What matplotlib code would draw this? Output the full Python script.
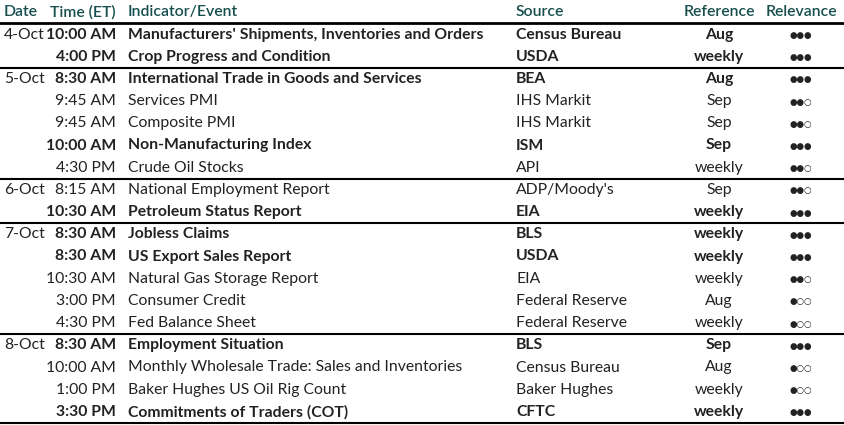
import matplotlib.pyplot as plt

dates = ["4-Oct", "", "5-Oct", "", "", "", "", "6-Oct", "", "7-Oct", "", "", "", "", "8-Oct", "", "", ""]
times = ["10:00 AM", "4:00 PM", "8:30 AM", "9:45 AM", "9:45 AM", "10:00 AM", "4:30 PM", "8:15 AM",
         "10:30 AM", "8:30 AM", "8:30 AM", "10:30 AM", "3:00 PM", "4:30 PM", "8:30 AM", "10:00 AM",
         "1:00 PM", "3:30 PM"]
events = ["Manufacturers' Shipments, Inventories and Orders", "Crop Progress and Condition",
          "International Trade in Goods and Services", "Services PMI", "Composite PMI",
          "Non-Manufacturing Index", "Crude Oil Stocks", "National Employment Report",
          "Petroleum Status Report", "Jobless Claims", "US Export Sales Report",
          "Natural Gas Storage Report", "Consumer Credit", "Fed Balance Sheet",
          "Employment Situation", "Monthly Wholesale Trade: Sales and Inventories",
          "Baker Hughes US Oil Rig Count", "Commitments of Traders (COT)"]
sources = ["Census Bureau", "USDA", "BEA", "IHS Markit", "IHS Markit", "ISM", "API", "ADP/Moody's",
           "EIA", "BLS", "USDA", "EIA", "Federal Reserve", "Federal Reserve", "BLS", "Census Bureau",
           "Baker Hughes", "CFTC"]
refs = ["Aug", "weekly", "Aug", "Sep", "Sep", "Sep", "weekly", "Sep", "weekly", "weekly", "weekly",
        "weekly", "Aug", "weekly", "Sep", "Aug", "weekly", "weekly"]
relevance = [3, 3, 3, 2, 2, 3, 2, 2, 3, 3, 3, 2, 1, 1, 3, 1, 1, 3]
bold = [True, True, True, False, False, True, False, False, True, True, True, False, False, False,
        True, False, False, True]
group_breaks = [2, 7, 9, 14]

W, H = 844, 425
fig = plt.figure(figsize=(W / 100, H / 100), dpi=100)
ax = fig.add_axes([0, 0, 1, 1])
ax.set_xlim(0, W)
ax.set_ylim(H, 0)
ax.axis("off")

plt.rcParams['font.family'] = ['Lato', 'DejaVu Sans']
txt = "#222222"
hdr = "#174f4f"
fs = 11.3

hy = 12
ax.text(4, hy, "Date", color=hdr, fontsize=fs, va="center", ha="left", weight="semibold")
ax.text(116, hy, "Time (ET)", color=hdr, fontsize=fs, va="center", ha="right", weight="semibold")
ax.text(128, hy, "Indicator/Event", color=hdr, fontsize=fs, va="center", ha="left", weight="semibold")
ax.text(516, hy, "Source", color=hdr, fontsize=fs, va="center", ha="left", weight="semibold")
ax.text(719, hy, "Reference", color=hdr, fontsize=fs, va="center", ha="center", weight="semibold")
ax.text(801, hy, "Relevance", color=hdr, fontsize=fs, va="center", ha="center", weight="semibold")
ax.plot([0, W], [23, 23], color="black", lw=2)

y0, dy = 34.5, 22.2
for i in range(len(events)):
    y = y0 + i * dy
    w = "bold" if bold[i] else "normal"
    ax.text(4, y, dates[i], color=txt, fontsize=fs, va="center", ha="left")
    ax.text(116, y, times[i], color=txt, fontsize=fs, va="center", ha="right", weight=w)
    ax.text(128, y, events[i], color=txt, fontsize=fs, va="center", ha="left", weight=w)
    ax.text(516, y, sources[i], color=txt, fontsize=fs, va="center", ha="left", weight=w)
    ax.text(719, y, refs[i], color=txt, fontsize=fs, va="center", ha="center", weight=w)
    dots = "●" * relevance[i] + "○" * (3 - relevance[i])
    ax.text(801, y + 1, dots, color=txt, fontsize=6.2, va="center", ha="center",
            family="DejaVu Sans")
    if i in group_breaks:
        yl = y - dy / 2
        ax.plot([0, W], [yl, yl], color="black", lw=1.5)
ax.plot([0, W], [y0 + (len(events) - 0.5) * dy, y0 + (len(events) - 0.5) * dy], color="black", lw=1.5)

fig.savefig("out.png", dpi=100)
